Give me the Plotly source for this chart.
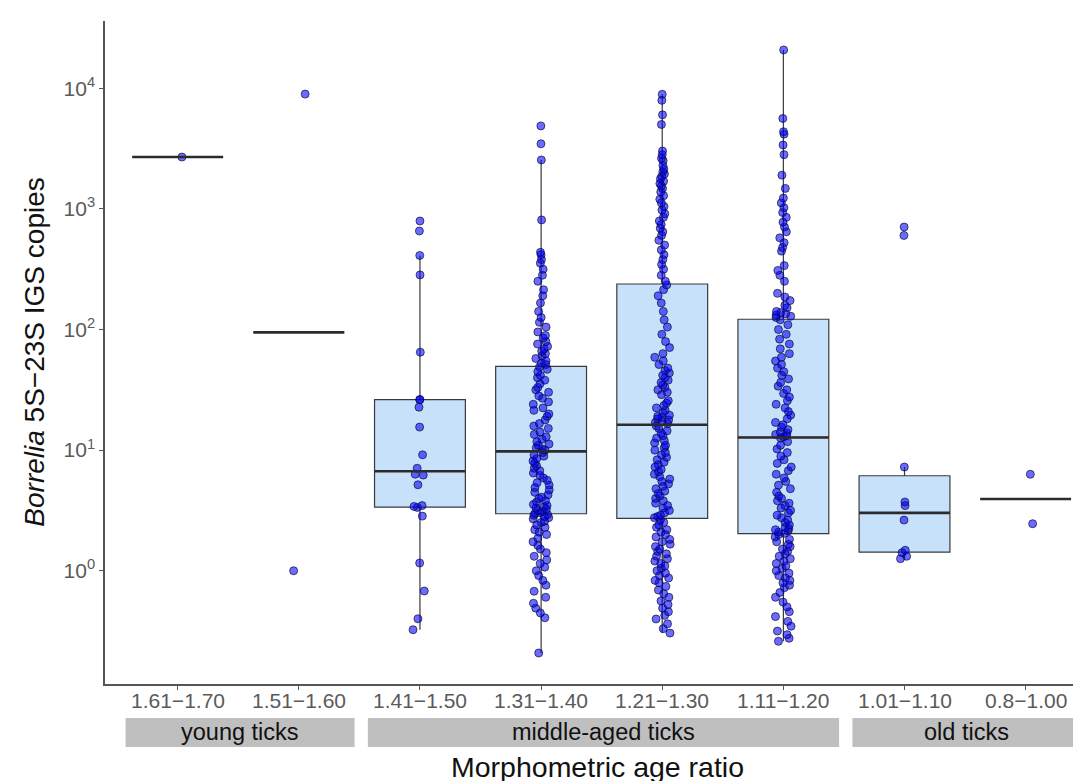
import numpy as np
import plotly.graph_objects as go

# ---- data (stored as log10 of IGS copies) ----
categories = ["1.61−1.70", "1.51−1.60", "1.41−1.50", "1.31−1.40",
              "1.21−1.30", "1.11−1.20", "1.01−1.10", "0.8−1.00"]

log_161_170 = [3.43]
log_151_160 = [3.952, 0.0]
log_141_150 = [2.90, 2.817, 2.614, 2.453, 1.812, 1.42, 1.417, 1.356, 1.191, 0.961,
               0.85, 0.80, 0.793, 0.713, 0.54, 0.533, 0.525, 0.453, 0.064, -0.168,
               -0.398, -0.489]
log_131_140 = [3.688, 3.54, 3.406, 2.909, 2.64, 2.62, 2.58, 2.55, 2.50, 2.45, 2.40,
               2.33, 2.28, 2.22, 2.15, 2.10, 2.06, 2.02, 1.98, 1.95, 1.93, 1.90,
               1.88, 1.86, 1.84, 1.82, 1.80, 1.78, 1.76, 1.74, 1.72, 1.71,
               1.69, 1.67, 1.65, 1.62, 1.60, 1.58, 1.55, 1.52, 1.50, 1.48, 1.45,
               1.43, 1.40, 1.38, 1.35, 1.33, 1.30, 1.28, 1.25, 1.22, 1.20, 1.18,
               1.15, 1.13, 1.11, 1.09, 1.07, 1.05, 1.04, 1.02, 1.01, 1.00,
               0.98, 0.96, 0.95, 0.93, 0.91, 0.89, 0.87, 0.85, 0.83, 0.81, 0.79,
               0.77, 0.75, 0.73, 0.71, 0.69, 0.67, 0.65, 0.63, 0.61, 0.60, 0.58,
               0.57, 0.55, 0.54, 0.53, 0.52, 0.51, 0.50, 0.49, 0.48, 0.475,
               0.465, 0.46, 0.45, 0.44, 0.43, 0.41, 0.40, 0.38, 0.36, 0.34, 0.32,
               0.30, 0.27, 0.24, 0.21, 0.18, 0.15, 0.12, 0.09, 0.06, 0.03, 0.0,
               -0.04, -0.08, -0.12, -0.17, -0.22, -0.27, -0.31, -0.35, -0.39, -0.682]
log_121_130 = [3.95, 3.90, 3.78, 3.70, 3.48, 3.45, 3.42, 3.40, 3.36, 3.33, 3.31,
               3.29, 3.27, 3.25, 3.23, 3.21, 3.19, 3.17, 3.14, 3.11, 3.08, 3.05,
               3.02, 2.99, 2.96, 2.93, 2.90, 2.87, 2.84, 2.81, 2.78, 2.74, 2.70,
               2.66, 2.62, 2.58, 2.54, 2.50, 2.45, 2.40,
               2.37, 2.33, 2.28, 2.22, 2.15, 2.08, 2.02, 1.96, 1.90, 1.85, 1.80,
               1.77, 1.74, 1.71, 1.68, 1.66, 1.64, 1.62, 1.60, 1.58, 1.56, 1.54,
               1.52, 1.50, 1.48, 1.46, 1.41, 1.39, 1.37, 1.35, 1.33, 1.31, 1.29,
               1.28, 1.27, 1.26, 1.25, 1.24, 1.23, 1.22,
               1.20, 1.18, 1.16, 1.14, 1.12, 1.10, 1.08, 1.06, 1.04, 1.02, 1.00,
               0.98, 0.96, 0.94, 0.92, 0.90, 0.88, 0.86, 0.84, 0.82, 0.80, 0.78,
               0.76, 0.74, 0.72, 0.70, 0.68, 0.66, 0.64, 0.62, 0.60, 0.58, 0.56,
               0.54, 0.52, 0.50, 0.48, 0.46, 0.45, 0.44,
               0.42, 0.40, 0.38, 0.36, 0.34, 0.32, 0.30, 0.28, 0.26, 0.24, 0.22,
               0.20, 0.18, 0.16, 0.14, 0.12, 0.10, 0.08, 0.06, 0.04, 0.02, 0.00,
               -0.02, -0.04, -0.06, -0.08, -0.10, -0.13, -0.16, -0.19, -0.22,
               -0.25, -0.28, -0.31, -0.34, -0.37, -0.40, -0.44, -0.48, -0.517]
log_111_120 = [4.318, 3.75, 3.64, 3.62, 3.53, 3.45, 3.28, 3.17, 3.09, 3.05, 3.01,
               2.97, 2.93, 2.89, 2.85, 2.81, 2.76, 2.72, 2.68, 2.65, 2.53, 2.49,
               2.45, 2.40, 2.30, 2.27, 2.24, 2.20, 2.18, 2.15, 2.14, 2.13, 2.12,
               2.11, 2.10,
               2.08, 2.04, 2.00, 1.96, 1.92, 1.88, 1.84, 1.80, 1.77, 1.74, 1.71,
               1.68, 1.65, 1.62, 1.59, 1.56, 1.53, 1.50, 1.47, 1.44, 1.41, 1.38,
               1.35, 1.32, 1.29, 1.26, 1.23, 1.21, 1.19, 1.17, 1.15, 1.14, 1.13,
               1.12, 1.11,
               1.10, 1.07, 1.04, 1.01, 0.98, 0.95, 0.92, 0.89, 0.86, 0.83, 0.80,
               0.77, 0.74, 0.71, 0.68, 0.65, 0.62, 0.60, 0.58, 0.56, 0.54, 0.52,
               0.50, 0.48, 0.46, 0.44, 0.42, 0.40, 0.38, 0.36, 0.35, 0.34, 0.33,
               0.32, 0.31,
               0.30, 0.28, 0.26, 0.24, 0.22, 0.20, 0.18, 0.16, 0.14, 0.12, 0.10,
               0.08, 0.06, 0.04, 0.02, 0.00, -0.02, -0.04, -0.06, -0.08, -0.10,
               -0.12, -0.14, -0.18, -0.22, -0.26, -0.30, -0.34, -0.38, -0.42,
               -0.46, -0.50, -0.53, -0.56, -0.585]
log_101_110 = [0.10, 0.12, 0.15, 0.17, 0.42, 0.54, 0.57, 0.86, 2.78, 2.85]
log_080_100 = [0.80, 0.39]

ytick_exponents = [0, 1, 2, 3, 4]

strip_labels = ["young ticks", "middle-aged ticks", "old ticks"]
strip_first = [0, 2, 6]
strip_last = [1, 5, 7]

groups = [log_161_170, log_151_160, log_141_150, log_131_140,
          log_121_130, log_111_120, log_101_110, log_080_100]

# ---- box statistics computed in log space (as ggplot does with a log scale) ----
q1s, meds, q3s, los, his = [], [], [], [], []
for g in groups:
    a = np.array(g, dtype=float)
    med = np.median(a)
    if len(a) <= 2:
        q1 = q3 = lo = hi = med
    else:
        q1, q3 = np.percentile(a, [25, 75])
        iqr = q3 - q1
        lo = a[a >= q1 - 1.5 * iqr].min()
        hi = a[a <= q3 + 1.5 * iqr].max()
    q1s.append(10 ** q1); meds.append(10 ** med); q3s.append(10 ** q3)
    los.append(10 ** lo); his.append(10 ** hi)

xpos = list(range(len(categories)))
BOXW = 0.75
FONT = "Liberation Sans, Arial, sans-serif"

fig = go.Figure()

fig.add_trace(go.Box(
    x=xpos, q1=q1s, median=meds, q3=q3s, lowerfence=los, upperfence=his,
    width=BOXW, whiskerwidth=0, boxpoints=False,
    fillcolor="#c8e1fb", line=dict(color="#3a3a3a", width=1.2),
    showlegend=False, hoverinfo="skip"))

# thicker median lines
mx, my = [], []
for i, m in enumerate(meds):
    mx += [i - BOXW / 2, i + BOXW / 2, None]
    my += [m, m, None]
fig.add_trace(go.Scatter(x=mx, y=my, mode="lines",
                         line=dict(color="#2b2b2b", width=2.6),
                         showlegend=False, hoverinfo="skip"))

# jittered points
px, py = [], []
for i, g in enumerate(groups):
    px += [i] * len(g)
    py += [10 ** v for v in g]
fig.add_trace(go.Box(
    x=px, y=py, width=BOXW, boxpoints="all", jitter=0.18, pointpos=0,
    fillcolor="rgba(0,0,0,0)", line=dict(color="rgba(0,0,0,0)", width=0),
    marker=dict(size=8, color="rgba(0,0,255,0.58)",
                line=dict(color="rgba(10,10,50,0.85)", width=0.8)),
    showlegend=False, hoverinfo="skip"))

# x tick labels (placed as annotations to match the reference spacing)
for i, c in zip(xpos, categories):
    fig.add_annotation(x=i, y=-0.0256, xref="x", yref="paper", text=c,
                       showarrow=False,
                       font=dict(family=FONT, size=21, color="#5a5a5a"),
                       xanchor="center", yanchor="middle")

# strips below the axis
strip_y0, strip_y1 = -0.0513, -0.095
for lab, f, l in zip(strip_labels, strip_first, strip_last):
    x0, x1 = f - 0.43, l + 0.46
    fig.add_shape(type="rect", xref="x", yref="paper", x0=x0, x1=x1,
                  y0=strip_y1, y1=strip_y0, fillcolor="#bfbfbf",
                  line=dict(width=0), layer="below")
    fig.add_annotation(x=(x0 + x1) / 2, y=(strip_y0 + strip_y1) / 2,
                       xref="x", yref="paper", text=lab, showarrow=False,
                       font=dict(family=FONT, size=23.5, color="#111111"),
                       xanchor="center", yanchor="middle")

fig.add_annotation(x=0.501, y=-0.1245, xref="paper", yref="paper",
                   text="Morphometric age ratio", showarrow=False,
                   font=dict(family=FONT, size=28.5, color="#111111"),
                   xanchor="center", yanchor="middle", borderpad=0)
fig.add_annotation(x=-0.072, y=0.5, xref="paper", yref="paper",
                   text="<i>Borrelia</i> 5S−23S IGS copies", showarrow=False,
                   textangle=-90,
                   font=dict(family=FONT, size=28, color="#111111"),
                   xanchor="center", yanchor="middle")

fig.update_layout(
    width=1081, height=781,
    margin=dict(l=97, r=0, t=13, b=105),
    paper_bgcolor="white", plot_bgcolor="white",
    boxmode="overlay",
    font=dict(family=FONT),
    xaxis=dict(range=[-0.6, 7.523], tickvals=xpos, showticklabels=False,
               showline=True, linecolor="#555555", linewidth=1.5,
               ticks="outside", ticklen=4, tickcolor="#555555", tickwidth=1.2,
               showgrid=False, zeroline=False),
    yaxis=dict(type="log", range=[-0.939, 4.558],
               tickvals=[10 ** e for e in ytick_exponents],
               ticktext=[f"10<sup>{e}</sup>" for e in ytick_exponents],
               showline=True, linecolor="#555555", linewidth=1.5,
               ticks="outside", ticklen=4, tickcolor="#555555", tickwidth=1.2,
               showgrid=False, zeroline=False,
               tickfont=dict(family=FONT, size=21, color="#5a5a5a")),
)

fig.write_html("out.html")
